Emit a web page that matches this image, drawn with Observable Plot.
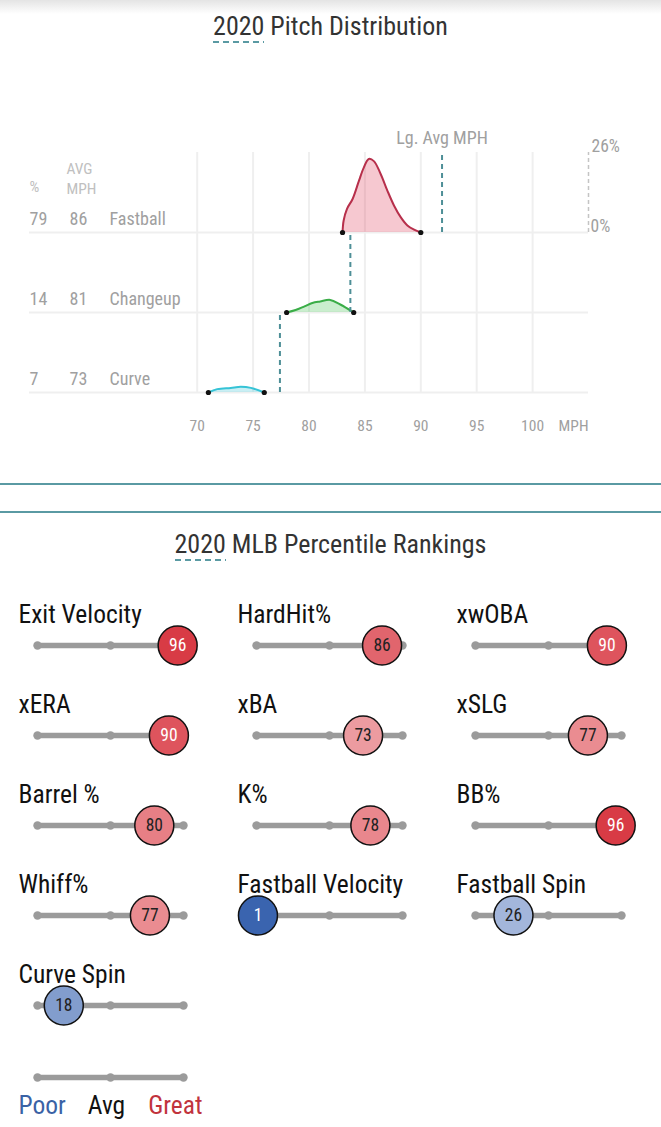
<!DOCTYPE html>
<html><head><meta charset="utf-8">
<script src="https://cdn.jsdelivr.net/npm/d3@7"></script>
<script src="https://cdn.jsdelivr.net/npm/@observablehq/plot@0.6"></script>
<style>
body{margin:0;background:#fff;width:661px;height:1127px;position:relative;overflow:hidden;
 font-family:"Roboto Condensed","Liberation Sans Narrow","Arial Narrow","DejaVu Sans Condensed",Roboto,sans-serif;}
.shadow{position:absolute;left:0;top:0;width:661px;height:14px;background:linear-gradient(#e4e4e4,#f3f3f3 55%,#fff);}
.title{position:absolute;left:0;width:661px;height:32px;line-height:32px;text-align:center;color:#333;}
.title span{position:relative;display:inline-block;}
.title span::after{content:"";position:absolute;left:0;right:0;top:31px;height:2px;
 background:repeating-linear-gradient(90deg,#5a9aa3 0 6px,transparent 6px 10px);}
.sep{position:absolute;left:0;width:661px;height:0;border-top:2px solid #5a9aa3;}
.chart{position:absolute;left:0;}
</style></head>
<body>
<div class="shadow"></div>
<div class="title" id="t1" style="top:10px;font-size:26px;"><span>2020</span> Pitch Distribution</div>
<div class="chart" id="pitch" style="top:60px"></div>
<div class="sep" style="top:483px"></div>
<div class="sep" style="top:511px"></div>
<div class="title" id="t2" style="top:528px;font-size:26px;"><span>2020</span> MLB Percentile Rankings</div>
<div class="chart" id="pct" style="top:570px"></div>
<div class="chart" id="legend" style="top:1052px"></div>
<script>
// ---------- data ----------
const pitchNames = ["Fastball", "Changeup", "Curve"];
const pitchShare = [79, 14, 7];
const pitchAvgMph = [86, 81, 73];
const fastballMph = [83.0, 83.1, 83.4, 83.9, 84.45, 84.9, 85.35, 85.8, 86.4, 87.0, 87.6, 88.2, 88.8, 89.4, 90.0];
const fastballPct = [0, 3.9, 7.7, 10.9, 16.6, 21.1, 23.9, 23.2, 19.1, 13.7, 8.8, 5.0, 2.3, 0.9, 0];
const changeupMph = [78.0, 78.8, 79.6, 80.3, 81.0, 81.9, 82.8, 84.0];
const changeupPct = [0, 0.8, 2.0, 3.1, 3.6, 4.1, 2.6, 0];
const curveMph = [71.0, 71.8, 73.0, 73.9, 74.8, 76.0];
const curvePct = [0, 1.1, 1.5, 1.85, 1.5, 0];
const connectorMph = [83.7, 77.4];
const leagueAvgMph = 91.9;
const mphTicks = [70, 75, 80, 85, 90, 95, 100];
const densityMaxPct = 26;

const metricNames = ["Exit Velocity", "HardHit%", "xwOBA", "xERA", "xBA", "xSLG", "Barrel %", "K%", "BB%", "Whiff%", "Fastball Velocity", "Fastball Spin", "Curve Spin"];
const metricPct = [96, 86, 90, 90, 73, 77, 80, 78, 96, 77, 1, 26, 18];
const legendLabels = ["Poor", "Avg", "Great"];
const legendStops = [0, 50, 100];

// ---------- styles ----------
const FONT = '"Roboto Condensed","Liberation Sans Narrow","Arial Narrow","DejaVu Sans Condensed",Roboto,sans-serif';
const pitchStroke = ["#b72f4b", "#3aad47", "#36c3d6"];
const pitchFill = ["#dc3550", "#3cc04a", "#36c3d6"];
const gray = "#a0a0a0";
const teal = "#4e8f97";

// ---------- pitch distribution ----------
const mphArr = [fastballMph, changeupMph, curveMph];
const pctArr = [fastballPct, changeupPct, curvePct];
const rows = pitchNames.map((name, i) => ({name, share: pitchShare[i], avg: pitchAvgMph[i], base: (pitchNames.length - 1 - i) * densityMaxPct}));
const series = rows.map((r, i) => mphArr[i].map((m, j) => ({pitch: r.name, mph: m, base: r.base, top: r.base + pctArr[i][j]})));
const connectors = connectorMph.map((m, i) => ({mph: m, from: rows[i + 1].base, to: rows[i].base}));
const topY = rows[0].base + densityMaxPct;

const pitchMarks = [
  Plot.ruleX(mphTicks, {y1: 0, y2: topY, stroke: "#efefef", strokeWidth: 2}),
  Plot.ruleY(rows, {y: "base", x1: 55, x2: 105, stroke: "#efefef", strokeWidth: 2}),
];
series.forEach((pts, i) => {
  pitchMarks.push(Plot.areaY(pts, {x: "mph", y1: "base", y2: "top", fill: pitchFill[i], fillOpacity: 0.27, curve: "catmull-rom"}));
  pitchMarks.push(Plot.lineY(pts, {x: "mph", y: "top", stroke: pitchStroke[i], strokeWidth: 2, curve: "catmull-rom"}));
  pitchMarks.push(Plot.dot([pts[0], pts[pts.length - 1]], {x: "mph", y: "top", r: 2.6, fill: "#111"}));
});
pitchMarks.push(
  Plot.ruleX(connectors, {x: "mph", y1: "from", y2: "to", stroke: teal, strokeWidth: 2, strokeDasharray: "5,4"}),
  Plot.ruleX([leagueAvgMph], {x: d => d, y1: rows[0].base, y2: topY, stroke: teal, strokeWidth: 2, strokeDasharray: "5,4"}),
  Plot.text(["Lg. Avg MPH"], {x: leagueAvgMph, y: topY, dy: -14, fill: gray, fontSize: 18}),
  Plot.ruleX([105], {x: d => d, y1: rows[0].base, y2: topY, stroke: "#c4c4c4", strokeWidth: 1.5, strokeDasharray: "4,3"}),
  Plot.text([densityMaxPct + "%"], {x: 105, y: topY, dx: 3, dy: -6, textAnchor: "start", fill: gray, fontSize: 17.5}),
  Plot.text(["0%"], {x: 105, y: rows[0].base, dx: 2, dy: -6, textAnchor: "start", fill: gray, fontSize: 17.5}),
  Plot.text(rows, {x: 55, y: "base", text: d => String(d.share), textAnchor: "start", dx: 0, dy: -13, fill: gray, fontSize: 18}),
  Plot.text(rows, {x: 55, y: "base", text: d => String(d.avg), textAnchor: "start", dx: 40, dy: -13, fill: gray, fontSize: 18}),
  Plot.text(rows, {x: 55, y: "base", text: "name", textAnchor: "start", dx: 80, dy: -13, fill: gray, fontSize: 18}),
  Plot.text(["%"], {x: 55, y: rows[0].base, textAnchor: "start", dy: -45, fill: "#c0c0c0", fontSize: 15.5}),
  Plot.text(["AVG\nMPH"], {x: 55, y: rows[0].base, textAnchor: "start", dx: 37, dy: -55, lineHeight: 1.29, fill: "#c0c0c0", fontSize: 15.5}),
  Plot.text(mphTicks, {x: d => d, y: 0, dy: 34, fill: gray, fontSize: 15.5}),
  Plot.text(["MPH"], {x: 105, y: 0, dy: 34, textAnchor: "end", fill: gray, fontSize: 15.5})
);

document.getElementById("pitch").append(Plot.plot({
  width: 661, height: 400,
  marginLeft: 29, marginRight: 73, marginTop: 92, marginBottom: 68,
  x: {domain: [55, 105], axis: null},
  y: {domain: [0, topY], axis: null},
  style: {fontFamily: FONT, background: "transparent", overflow: "visible"},
  marks: pitchMarks
}));

// ---------- percentile rankings ----------
const metrics = metricNames.map((name, i) => ({name, pct: metricPct[i], col: i % 3, row: Math.floor(i / 3)}));
const track = "#9b9b9b";
const colorStops = [0, 25, 50, 75, 100];
const colorRange = ["#3661ad", "#a0b4da", "#eeeeee", "#ec9499", "#d42a35"];
const isDark = d => d.pct >= 88 || d.pct <= 12;

document.getElementById("pct").append(Plot.plot({
  width: 661, height: 492,
  marginLeft: 37, marginRight: 40, marginTop: 28, marginBottom: 10,
  facet: {data: metrics, x: "col", y: "row", marginTop: 0, marginBottom: 0, marginLeft: 0, marginRight: 0},
  fx: {domain: [0, 1, 2], paddingInner: 1 / 3, paddingOuter: 0, axis: null},
  fy: {domain: [0, 1, 2, 3, 4], paddingInner: 0, paddingOuter: 0, axis: null},
  x: {domain: [0, 100], axis: null},
  y: {domain: [0, 1], axis: null},
  color: {type: "linear", domain: colorStops, range: colorRange, interpolate: "rgb"},
  style: {fontFamily: FONT, background: "transparent", overflow: "visible"},
  marks: [
    Plot.ruleY(metrics, {y: 0.5, x1: 0, x2: 100, stroke: track, strokeWidth: 5.5}),
    Plot.dot(metrics, {x: 0, y: 0.5, r: 4.2, fill: track}),
    Plot.dot(metrics, {x: 50, y: 0.5, r: 4.2, fill: track}),
    Plot.dot(metrics, {x: 100, y: 0.5, r: 4.2, fill: track}),
    Plot.text(metrics, {x: 0, y: 0.5, text: "name", textAnchor: "start", dx: -19, dy: -31, fill: "#111", fontSize: 25.5}),
    Plot.dot(metrics, {x: "pct", y: 0.5, r: 19.5, fill: "pct", stroke: "#111", strokeWidth: 1.5}),
    Plot.text(metrics, {filter: isDark, x: "pct", y: 0.5, text: d => String(d.pct), fill: "#fff", fontSize: 17.5}),
    Plot.text(metrics, {filter: d => !isDark(d), x: "pct", y: 0.5, text: d => String(d.pct), fill: "#222", fontSize: 17.5})
  ]
}));

// ---------- legend ----------
document.getElementById("legend").append(Plot.plot({
  width: 661, height: 80,
  marginLeft: 37, marginRight: 478, marginTop: 0, marginBottom: 30,
  x: {domain: [0, 100], axis: null},
  y: {domain: [0, 1], axis: null},
  style: {fontFamily: FONT, background: "transparent", overflow: "visible"},
  marks: [
    Plot.ruleY([0.5], {y: d => d, x1: 0, x2: 100, stroke: track, strokeWidth: 5.5}),
    Plot.dot(legendStops, {x: d => d, y: 0.5, r: 4.2, fill: track}),
    Plot.text([legendLabels[0]], {x: legendStops[0], y: 0.5, dx: -19, dy: 28, textAnchor: "start", fill: "#3a62a5", fontSize: 25.5}),
    Plot.text([legendLabels[1]], {x: legendStops[1], y: 0.5, dx: -4, dy: 28, fill: "#111", fontSize: 25.5}),
    Plot.text([legendLabels[2]], {x: legendStops[2], y: 0.5, dx: 19, dy: 28, textAnchor: "end", fill: "#c1333d", fontSize: 25.5})
  ]
}));
</script>
</body></html>
